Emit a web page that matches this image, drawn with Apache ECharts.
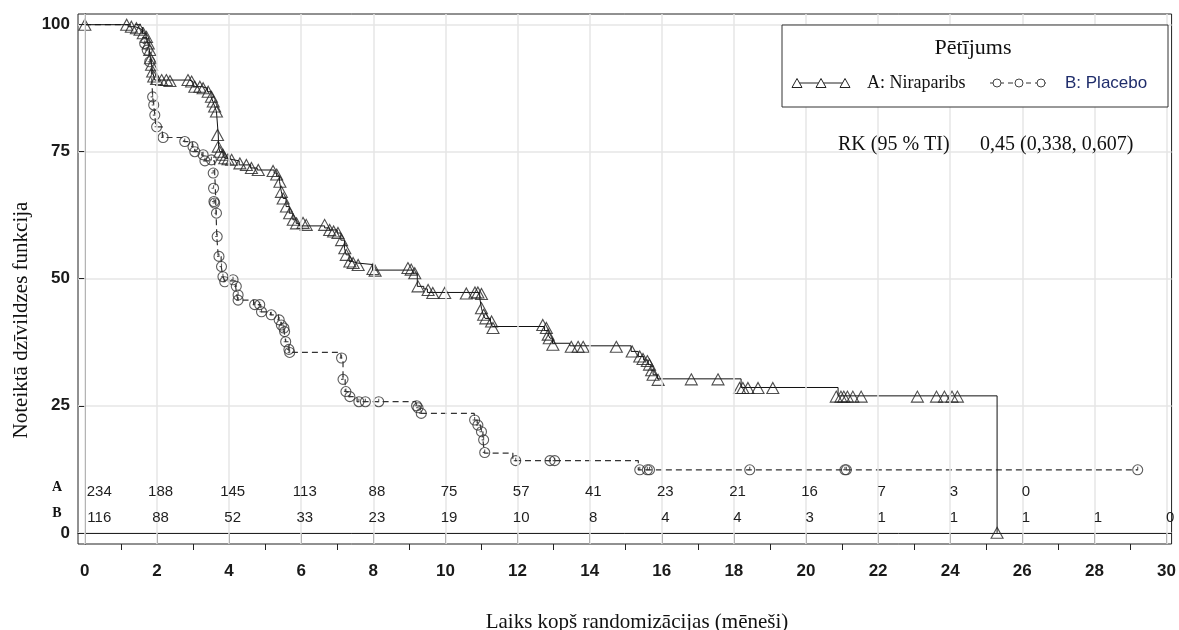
<!DOCTYPE html>
<html>
<head>
<meta charset="utf-8">
<title>Kaplan-Meier</title>
<script src="https://cdn.jsdelivr.net/npm/echarts@6/dist/echarts.min.js"></script>
<style>
	html, body { margin: 0; padding: 0; background: #fff; }
	#km_1 { width: 1179px; height: 630px; }
</style>
</head>
<body>
<div id="km_1"></div>
<script>
// tick labels
var xTicks = [0,2,4,6,8,10,12,14,16,18,20,22,24,26,28,30];
var xMinorTicks = [1,3,5,7,9,11,13,15,17,19,21,23,25,27,29];
var yTicks = [0,25,50,75,100];

// A: Niraparibs - steps [laiks, izdzīvošana]
var nirapSteps = [[0,100],[1.2,99.6],[1.4,99.3],[1.5,99],[1.6,98.3],[1.7,97.6],[1.75,96.3],[1.79,95],[1.82,93.4],[1.85,92.1],[1.88,90.8],[1.91,89.8],[1.94,89.1],
	[2.9,88.8],[3.0,87.8],[3.25,87.5],[3.4,86.8],[3.5,85.8],[3.55,84.9],[3.6,83.9],[3.65,82.9],[3.7,78.3],[3.71,76],[3.74,75],[3.83,74.4],[3.88,73.7],[3.97,73.5],[4.05,73.2],[4.28,72.4],[4.6,71.8],[4.78,71.4],
	[5.25,70.8],[5.32,70.2],[5.4,69.1],[5.45,67.1],[5.5,65.8],[5.58,64.2],[5.67,62.9],[5.77,61.6],[5.86,60.9],[5.95,60.4],
	[6.65,60.0],[6.78,59.6],[7.0,59.0],[7.1,57.6],[7.2,56.0],[7.25,54.7],[7.33,53.4],[7.42,53.1],[7.55,52.8],[7.98,51.7],
	[9.1,51.1],[9.22,48.5],[9.4,48.0],[9.5,47.3],[10.95,46.3],[11.0,44.2],[11.05,42.9],[11.1,42.2],[11.25,41.6],[11.3,40.6],
	[12.75,39.8],[12.85,39.0],[12.9,38.3],[12.97,37.3],[13.45,36.8],[15.15,35.7],[15.35,34.7],[15.5,34.0],[15.62,33.1],[15.7,32.0],[15.76,31.1],[15.88,30.3],
	[18.2,28.6],[20.89,26.95],[25.3,0]];

// A: Niraparibs - cenzētie
var nirapCensor = [[0,100],[1.16,100],[1.29,99.6],[1.43,99.3],[1.53,99],[1.62,98.3],[1.71,97.6],[1.76,96.3],[1.8,95],[1.82,93.4],[1.85,92.1],[1.88,90.8],[1.91,89.8],
	[1.99,89.3],[2.13,89.1],[2.26,89.1],[2.36,88.9],[2.86,89.1],[2.96,88.8],[3.05,87.8],[3.19,87.8],[3.28,87.5],[3.42,86.8],[3.51,85.8],[3.56,84.9],[3.6,83.9],[3.65,82.9],
	[3.68,78.3],[3.7,76],[3.74,75],[3.83,74.4],[3.88,73.7],[3.97,73.5],[4.07,73.4],[4.3,72.7],[4.48,72.4],[4.62,71.8],[4.81,71.4],
	[5.22,71.2],[5.32,70.5],[5.41,69.1],[5.45,67.1],[5.5,65.8],[5.59,64.2],[5.68,62.9],[5.78,61.6],[5.87,60.9],[6.05,61],[6.14,60.6],
	[6.65,60.6],[6.79,59.6],[6.9,59.3],[7.02,59],[7.12,57.6],[7.21,56],[7.25,54.7],[7.35,53.4],[7.44,53.1],[7.58,52.7],[7.99,51.9],[8.05,51.6],
	[8.96,52.1],[9.05,51.8],[9.15,51.1],[9.24,48.5],[9.52,47.8],[9.65,47.2],[9.98,47.2],[10.58,47.1],[10.82,47.3],[10.9,47.3],[11.0,47],
	[11.0,44.2],[11.06,42.9],[11.12,42.2],[11.28,41.6],[11.32,40.3],[12.7,40.9],[12.8,40.3],[12.85,39],[12.88,38.3],[12.98,37],
	[13.49,36.6],[13.68,36.6],[13.82,36.6],[14.74,36.6],[15.18,35.7],[15.39,34.7],[15.48,34.2],[15.6,33.8],[15.66,33.1],[15.72,32],[15.76,31.1],[15.9,30.1],
	[16.82,30.2],[17.56,30.2],[18.16,28.5],[18.25,28.5],[18.39,28.5],[18.67,28.5],[19.08,28.5],
	[20.84,26.8],[20.97,26.8],[21.05,26.8],[21.15,26.8],[21.3,26.8],[21.53,26.8],[23.09,26.8],[23.62,26.8],[23.84,26.8],[24.05,26.8],[24.2,26.8],[25.3,0]];

// B: Placebo - steps
var placeboSteps = [[0,100],[1.6,97.5],[1.7,96.4],[1.78,93.5],[1.84,91.7],[1.88,85.8],[1.91,84.2],[1.94,82.2],[1.97,79.9],[2.15,77.8],[2.75,77.0],[2.98,76.0],[3.05,75.0],[3.25,74.2],[3.33,73.2],
	[3.6,70.8],[3.62,67.8],[3.63,64.9],[3.64,62.9],[3.66,58.2],[3.7,54.4],[3.78,52.5],[3.82,50.8],[3.87,49.6],[4.18,48.5],[4.22,46.6],[4.25,45.8],
	[4.68,44.9],[4.88,43.5],[5.15,42.9],[5.37,41.9],[5.44,40.9],[5.52,39.9],[5.57,37.6],[5.66,35.5],
	[7.1,34.4],[7.16,30.4],[7.22,27.8],[7.33,26.8],[7.55,25.8],[9.18,25.0],[9.3,23.5],
	[10.8,22.2],[10.88,21.2],[10.98,19.9],[11.04,18.3],[11.08,15.7],[11.87,14.2],[15.35,12.4],[29.2,12.4]];

// B: Placebo - cenzētie
var placeboCensor = [[1.66,96.3],[1.73,95],[1.8,92.7],[1.88,85.8],[1.91,84.2],[1.94,82.2],[1.99,79.9],[2.17,77.8],[2.77,77],[3.0,76],[3.05,75],[3.28,74.4],[3.33,73.2],[3.51,73.4],
	[3.56,70.8],[3.57,67.8],[3.58,65.2],[3.6,64.9],[3.65,62.9],[3.67,58.3],[3.72,54.4],[3.79,52.4],[3.83,50.4],[3.88,49.4],[4.11,49.8],[4.2,48.5],[4.25,46.8],[4.25,45.8],
	[4.71,44.9],[4.85,44.9],[4.9,43.5],[5.17,42.9],[5.39,41.9],[5.45,40.9],[5.52,40.3],[5.54,39.6],[5.57,37.6],[5.66,36.1],[5.68,35.5],
	[7.12,34.4],[7.16,30.2],[7.24,27.8],[7.35,26.8],[7.6,25.8],[7.78,25.8],[8.15,25.8],[9.2,25],[9.24,24.6],[9.33,23.5],
	[10.81,22.2],[10.9,21.2],[11.0,19.9],[11.06,18.3],[11.09,15.8],[11.95,14.2],[12.9,14.2],[13.03,14.2],
	[15.39,12.4],[15.6,12.4],[15.66,12.4],[18.44,12.4],[21.08,12.4],[21.12,12.4],[29.2,12.4]];

// riska grupas
var riskTimes = [0,2,4,6,8,10,12,14,16,18,20,22,24,26,28,30];
var riskA = [234,188,145,113,88,75,57,41,23,21,16,7,3,0];
var riskB = [116,88,52,33,23,19,10,8,4,4,3,1,1,1,1,0];

var serif = "'Liberation Serif', 'Times New Roman', serif";
var sans = "'Liberation Sans', Arial, sans-serif";

function riskRow(arr, rowY) {
	var out = [];
	for (var i = 0; i < arr.length; i++) {
		var t = riskTimes[i];
		out.push([t === 0 ? 0.4 : t + 0.1, rowY, arr[i]]);
	}
	return out;
}

// vertikālās režģa līnijas
var xGridLines = [];
for (var g = 0; g < xTicks.length; g++) {
	xGridLines.push({ xAxis: xTicks[g] });
}

var circlePath = 'path://M10,0A10,10 0 1,1 -10,0A10,10 0 1,1 10,0Z M0,-6L0,0L-4,0';
var riskLabel = {
	show: true, position: 'inside', formatter: function(p){ return p.value[2]; },
	fontSize: 15, color: '#1e1e1e', opacity: 1, textBorderWidth: 0, fontFamily: sans
};

if( document.getElementById('km_1') ){
	var myChart1 = echarts.init(document.getElementById('km_1'));
	var option1 = {
		animation: false,
		backgroundColor: '#fff',
		grid: {
			left: 78,
			right: 7,
			top: 14,
			bottom: 86,
			show: true,
			borderColor: '#222',
			borderWidth: 1
		},
		xAxis: [
			{
				type: 'value',
				min: -0.19,
				max: 30.14,
				axisLine: { lineStyle: { color: '#222' } },
				axisTick: { customValues: xTicks, length: 11, lineStyle: { color: '#222' } },
				axisLabel: { customValues: xTicks, fontSize: 17, fontWeight: 'bold', color: '#1a1a1a', fontFamily: sans, margin: 19 },
				splitLine: { show: false }
			},
			{
				type: 'value',
				position: 'bottom',
				min: -0.19,
				max: 30.14,
				axisLine: { show: false },
				axisTick: { customValues: xMinorTicks, length: 6, lineStyle: { color: '#222' } },
				axisLabel: { show: false },
				splitLine: { show: false }
			}
		],
		yAxis: {
			type: 'value',
			min: -2.2,
			max: 102.1,
			axisLine: { show: true, lineStyle: { color: '#222' } },
			axisTick: { show: true, customValues: yTicks, length: 6, lineStyle: { color: '#222' } },
			axisLabel: { customValues: yTicks, fontSize: 17, fontWeight: 'bold', color: '#1a1a1a', fontFamily: sans, margin: 8 },
			splitLine: { show: true, lineStyle: { color: '#e6e6e6', width: 1.5 } }
		},
		series: [
			{
				name: 'grid', type: 'line', data: [], z: 1, silent: true,
				markLine: {
					silent: true, symbol: 'none', label: { show: false },
					lineStyle: { color: '#e6e6e6', width: 1.5, type: 'solid' },
					data: xGridLines
				}
			},
			{
				name: 'A: Niraparibs', type: 'line', step: 'end', data: nirapSteps,
				symbol: 'none', lineStyle: { color: '#111', width: 1 }, z: 3
			},
			{
				name: 'B: Placebo', type: 'line', step: 'end', data: placeboSteps,
				symbol: 'none', lineStyle: { color: '#333', width: 1.2, type: [6, 4] }, z: 2
			},
			{
				name: 'A cenz', type: 'scatter', data: nirapCensor,
				symbol: 'triangle', symbolSize: [12, 11],
				itemStyle: { color: 'rgba(0,0,0,0)', borderColor: '#222', borderWidth: 1.1 }, z: 4
			},
			{
				name: 'B cenz', type: 'scatter', data: placeboCensor,
				symbol: circlePath, symbolSize: 10,
				itemStyle: { color: 'rgba(0,0,0,0)', borderColor: '#333', borderWidth: 1.1 }, z: 4
			},
			{
				name: 'riskA', type: 'scatter', data: riskRow(riskA, 8.1), symbol: 'rect', symbolSize: 0.01, silent: true, z: 5,
				itemStyle: { color: '#1e1e1e', opacity: 1 }, label: riskLabel
			},
			{
				name: 'riskB', type: 'scatter', data: riskRow(riskB, 2.95), symbol: 'rect', symbolSize: 0.01, silent: true, z: 5,
				itemStyle: { color: '#1e1e1e', opacity: 1 }, label: riskLabel
			}
		],
		graphic: [
			// asu nosaukumi
			{ type: 'text', x: 21, y: 320, rotation: Math.PI / 2,
				style: { text: 'Noteiktā dzīvildzes funkcija', font: '21px ' + serif, fill: '#111', textAlign: 'center', textVerticalAlign: 'middle' } },
			{ type: 'text', x: 637, y: 622,
				style: { text: 'Laiks kopš randomizācijas (mēneši)', font: '21px ' + serif, fill: '#111', textAlign: 'center', textVerticalAlign: 'middle' } },
			// riska tabulas rindu nosaukumi
			{ type: 'text', x: 57, y: 487, style: { text: 'A', font: 'bold 14px ' + serif, fill: '#111', textAlign: 'center', textVerticalAlign: 'middle' } },
			{ type: 'text', x: 57, y: 513, style: { text: 'B', font: 'bold 14px ' + serif, fill: '#111', textAlign: 'center', textVerticalAlign: 'middle' } },
			// leģenda
			{ type: 'rect', shape: { x: 782, y: 25, width: 386, height: 82 }, style: { fill: '#fff', stroke: '#333', lineWidth: 1 }, z: 10 },
			{ type: 'text', x: 973, y: 48, z: 11, style: { text: 'Pētījums', font: '22px ' + serif, fill: '#111', textAlign: 'center', textVerticalAlign: 'middle' } },
			{ type: 'line', z: 11, shape: { x1: 796, y1: 83, x2: 847, y2: 83 }, style: { stroke: '#222', lineWidth: 1 } },
			{ type: 'polygon', z: 12, shape: { points: [[792,87.5],[802,87.5],[797,78.5]] }, style: { fill: '#fff', stroke: '#222', lineWidth: 1 } },
			{ type: 'polygon', z: 12, shape: { points: [[816,87.5],[826,87.5],[821,78.5]] }, style: { fill: '#fff', stroke: '#222', lineWidth: 1 } },
			{ type: 'polygon', z: 12, shape: { points: [[840,87.5],[850,87.5],[845,78.5]] }, style: { fill: '#fff', stroke: '#222', lineWidth: 1 } },
			{ type: 'text', x: 867, y: 83, z: 11, style: { text: 'A: Niraparibs', font: '18px ' + serif, fill: '#111', textAlign: 'left', textVerticalAlign: 'middle' } },
			{ type: 'line', z: 11, shape: { x1: 990, y1: 83, x2: 1046, y2: 83 }, style: { stroke: '#333', lineWidth: 1, lineDash: [5, 4] } },
			{ type: 'circle', z: 12, shape: { cx: 997, cy: 83, r: 4 }, style: { fill: '#fff', stroke: '#444', lineWidth: 1 } },
			{ type: 'circle', z: 12, shape: { cx: 1019, cy: 83, r: 4 }, style: { fill: '#fff', stroke: '#444', lineWidth: 1 } },
			{ type: 'circle', z: 12, shape: { cx: 1041, cy: 83, r: 4 }, style: { fill: '#fff', stroke: '#444', lineWidth: 1 } },
			{ type: 'text', x: 1065, y: 83, z: 11, style: { text: 'B: Placebo', font: '17px ' + sans, fill: '#1f2d6b', textAlign: 'left', textVerticalAlign: 'middle' } },
			// riska koeficients
			{ type: 'text', x: 838, y: 145, z: 11, style: { text: 'RK (95 % TI)', font: '20px ' + serif, fill: '#111', textAlign: 'left', textVerticalAlign: 'middle' } },
			{ type: 'text', x: 980, y: 145, z: 11, style: { text: '0,45 (0,338, 0,607)', font: '20px ' + serif, fill: '#111', textAlign: 'left', textVerticalAlign: 'middle' } }
		]
	};
	myChart1.setOption(option1);
}
</script>
</body>
</html>
